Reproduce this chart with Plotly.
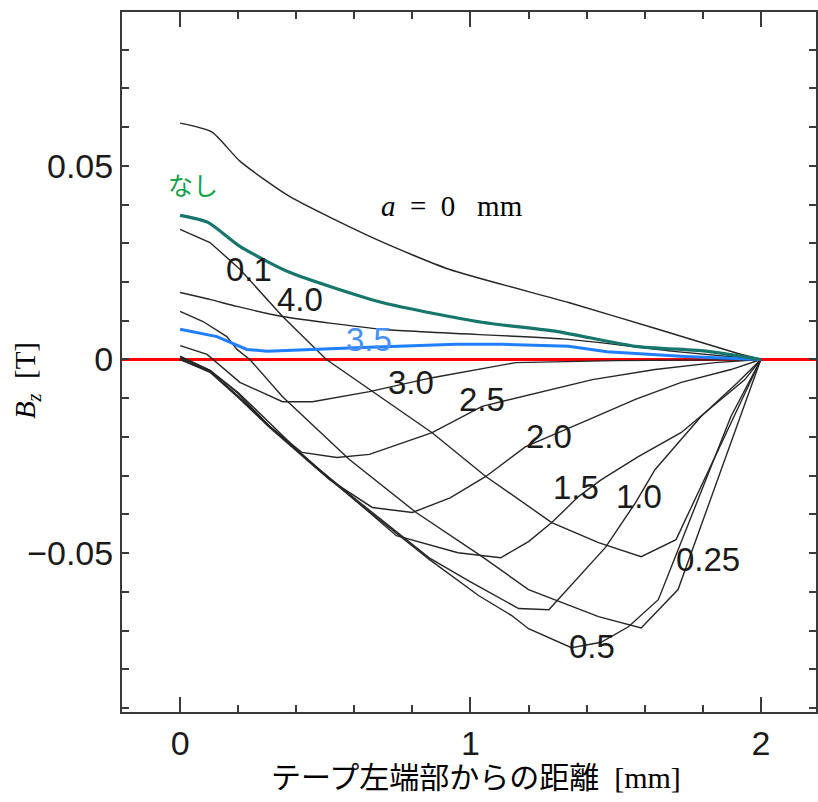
import plotly.graph_objects as go

# ---- data (x in mm, Bz in T) ----
x_a0 = [0, 0.110, 0.206, 0.377, 0.676, 0.926, 1.338, 1.646, 1.91, 2.0]
y_a0 = [0.0610, 0.0587, 0.0512, 0.0421, 0.0310, 0.0233, 0.0147, 0.0078, 0.0018, 0.0]

x_none = [0, 0.096, 0.206, 0.377, 0.696, 1.04, 1.30, 1.568, 1.818, 2.0]
y_none = [0.0372, 0.0354, 0.0292, 0.0225, 0.0147, 0.0096, 0.0072, 0.0034, 0.0021, 0.0]

x_40 = [0, 0.103, 0.196, 0.353, 0.696, 1.338, 1.70, 2.0]
y_40 = [0.0173, 0.0155, 0.0137, 0.0111, 0.0078, 0.0052, 0.0021, 0.0]

x_35 = [0, 0.127, 0.23, 0.30, 0.628, 0.95, 1.107, 1.338, 1.47, 1.74, 2.0]
y_35 = [0.0078, 0.0059, 0.0026, 0.0021, 0.0031, 0.0039, 0.0039, 0.0034, 0.0020, 0.0008, 0.0]

x_01 = [0, 0.103, 0.206, 0.353, 0.504, 0.868, 1.053, 1.28, 1.441, 1.588, 1.708, 2.0]
y_01 = [0.0336, 0.0302, 0.0233, 0.0111, 0.0, -0.0189, -0.0302, -0.0421, -0.0473, -0.0509, -0.0465, 0.0]

x_025 = [0, 0.079, 0.161, 0.196, 0.24, 0.353, 0.583, 0.813, 1.04, 1.2, 1.441, 1.588, 1.715, 1.931, 2.0]
y_025 = [0.0124, 0.0098, 0.0059, 0.0026, 0.0, -0.0096, -0.0258, -0.0395, -0.0509, -0.0594, -0.0664, -0.0693, -0.0594, -0.0147, 0.0]

x_30 = [0, 0.093, 0.206, 0.353, 0.456, 0.652, 0.868, 1.156, 1.5, 2.0]
y_30 = [0.0036, 0.0013, -0.0059, -0.0109, -0.0109, -0.0083, -0.0047, -0.0008, -0.0003, 0.0]

x_25 = [0, 0.103, 0.2, 0.309, 0.42, 0.54, 0.652, 0.868, 1.04, 1.278, 1.42, 1.636, 1.842, 2.0]
y_25 = [0.0008, -0.0028, -0.0088, -0.0173, -0.0240, -0.0253, -0.0245, -0.0189, -0.0121, -0.0078, -0.0052, -0.0026, -0.0008, 0.0]

x_20 = [0, 0.103, 0.2, 0.309, 0.42, 0.515, 0.662, 0.80, 0.93, 1.053, 1.19, 1.407, 1.568, 1.726, 1.897, 2.0]
y_20 = [0.0008, -0.0028, -0.0085, -0.0165, -0.0245, -0.0310, -0.0382, -0.0395, -0.0357, -0.0302, -0.0225, -0.0155, -0.0103, -0.0059, -0.0026, 0.0]

x_15 = [0, 0.103, 0.2, 0.309, 0.48, 0.745, 0.957, 1.104, 1.2, 1.28, 1.372, 1.451, 1.578, 1.725, 1.945, 2.0]
y_15 = [0.0005, -0.0031, -0.0095, -0.0173, -0.0284, -0.0455, -0.0499, -0.0512, -0.0470, -0.0421, -0.0354, -0.0310, -0.0251, -0.0189, -0.0052, 0.0]

x_10 = [0, 0.103, 0.2, 0.309, 0.48, 0.607, 0.858, 1.0, 1.166, 1.27, 1.465, 1.568, 1.636, 1.705, 1.794, 1.921, 2.0]
y_10 = [0.0, -0.0031, -0.0095, -0.0173, -0.0284, -0.0362, -0.0512, -0.0574, -0.0643, -0.0646, -0.0485, -0.0370, -0.0284, -0.0225, -0.0147, -0.0059, 0.0]

x_05 = [0, 0.103, 0.2, 0.309, 0.48, 0.607, 0.858, 1.029, 1.142, 1.2, 1.348, 1.45, 1.544, 1.647, 1.897, 2.0]
y_05 = [0.0, -0.0033, -0.0098, -0.0176, -0.0288, -0.0366, -0.0516, -0.0610, -0.0661, -0.0695, -0.0744, -0.0730, -0.0690, -0.0620, -0.0147, 0.0]

zero_x = [-0.2, 2.2]
zero_y = [0.0, 0.0]

label_text = ["0.1", "4.0", "3.0", "2.5", "2.0", "1.5", "1.0", "0.25", "0.5"]
label_x = [0.237, 0.412, 0.796, 1.04, 1.27, 1.365, 1.581, 1.818, 1.42]
label_y = [0.0233, 0.0155, -0.0059, -0.0103, -0.0199, -0.0331, -0.0354, -0.0517, -0.0742]

xtick_vals = [0, 1, 2]
ytick_vals = [-0.05, 0, 0.05]
ytick_text = ["\u22120.05", "0", "0.05"]

BLACK = "#262626"
fig = go.Figure()
fig.add_trace(go.Scatter(x=zero_x, y=zero_y, mode="lines", line=dict(color="#ff0000", width=3), hoverinfo="skip"))

smooth_sets = [(x_a0, y_a0), (x_40, y_40)]
for xs, ys in smooth_sets:
    fig.add_trace(go.Scatter(x=xs, y=ys, mode="lines",
                             line=dict(color=BLACK, width=1.4, shape="spline", smoothing=0.6), hoverinfo="skip"))

black_sets = [(x_01, y_01), (x_025, y_025), (x_30, y_30), (x_25, y_25), (x_20, y_20),
              (x_15, y_15), (x_10, y_10), (x_05, y_05)]
for xs, ys in black_sets:
    fig.add_trace(go.Scatter(x=xs, y=ys, mode="lines", line=dict(color=BLACK, width=1.4), hoverinfo="skip"))

fig.add_trace(go.Scatter(x=x_35, y=y_35, mode="lines", line=dict(color="#1f7fff", width=3), hoverinfo="skip"))
fig.add_trace(go.Scatter(x=x_none, y=y_none, mode="lines",
                         line=dict(color="#17766b", width=3.2, shape="spline", smoothing=0.6), hoverinfo="skip"))

for t, lx, ly in zip(label_text, label_x, label_y):
    fig.add_annotation(x=lx, y=ly, text=t, showarrow=False,
                       font=dict(family="Liberation Sans, Arial", size=33, color="#1a1a1a"))
fig.add_annotation(x=0.652, y=0.0052, text="3.5", showarrow=False,
                   font=dict(family="Liberation Sans, Arial", size=33, color="#4a8ff5"))
fig.add_annotation(x=0.045, y=0.0452, text="なし", showarrow=False,
                   font=dict(family="Noto Sans CJK JP", size=25, color="#15a04a"))
fig.add_annotation(x=0.937, y=0.0395, text="<i>a</i>\u00a0\u00a0=\u00a0\u00a00\u00a0\u00a0\u00a0mm", showarrow=False,
                   font=dict(family="Liberation Serif", size=29, color="#000000"))

# axis titles
fig.add_annotation(xref="paper", yref="paper", x=-0.137, y=0.474, xanchor="center", yanchor="middle",
                   text="<i>B<sub>z</sub></i>\u00a0\u00a0[T]",
                   textangle=-90, showarrow=False,
                   font=dict(family="Liberation Serif", size=29, color="#000000"))
fig.add_annotation(xref="paper", yref="paper", x=0.51, y=-0.094, xanchor="center", yanchor="middle",
                   text="テープ左端部からの距離\u00a0\u00a0[mm]", showarrow=False,
                   font=dict(family="Liberation Serif, Noto Sans CJK JP", size=30, color="#000000"))

axis_col = "#3a3a3a"
fig.update_layout(
    width=818, height=802,
    margin=dict(l=122, r=0, t=12, b=90),
    paper_bgcolor="white", plot_bgcolor="white",
    showlegend=False,
    xaxis=dict(range=[-0.2, 2.19], tickvals=xtick_vals, ticks="inside", ticklen=15, tickwidth=2,
               tickcolor=axis_col, showline=True, linecolor=axis_col, linewidth=2, mirror="ticks",
               showgrid=False, zeroline=False,
               tickfont=dict(family="Liberation Sans, Arial", size=34, color="#1a1a1a"),
               minor=dict(dtick=0.2, ticks="inside", ticklen=7, tickwidth=2, tickcolor=axis_col, showgrid=False)),
    yaxis=dict(range=[-0.0910, 0.0897], tickvals=ytick_vals, ticktext=ytick_text, ticks="inside",
               ticklen=7, tickwidth=2, tickcolor=axis_col, showline=True, linecolor=axis_col, linewidth=2,
               mirror="ticks", showgrid=False, zeroline=False,
               tickfont=dict(family="Liberation Sans, Arial", size=34, color="#1a1a1a"),
               minor=dict(dtick=0.01, ticks="inside", ticklen=7, tickwidth=2, tickcolor=axis_col, showgrid=False)),
)
fig.write_html("out.html", config={"displayModeBar": False},
               post_script="document.body.style.margin='0';document.body.style.overflow='hidden';")
